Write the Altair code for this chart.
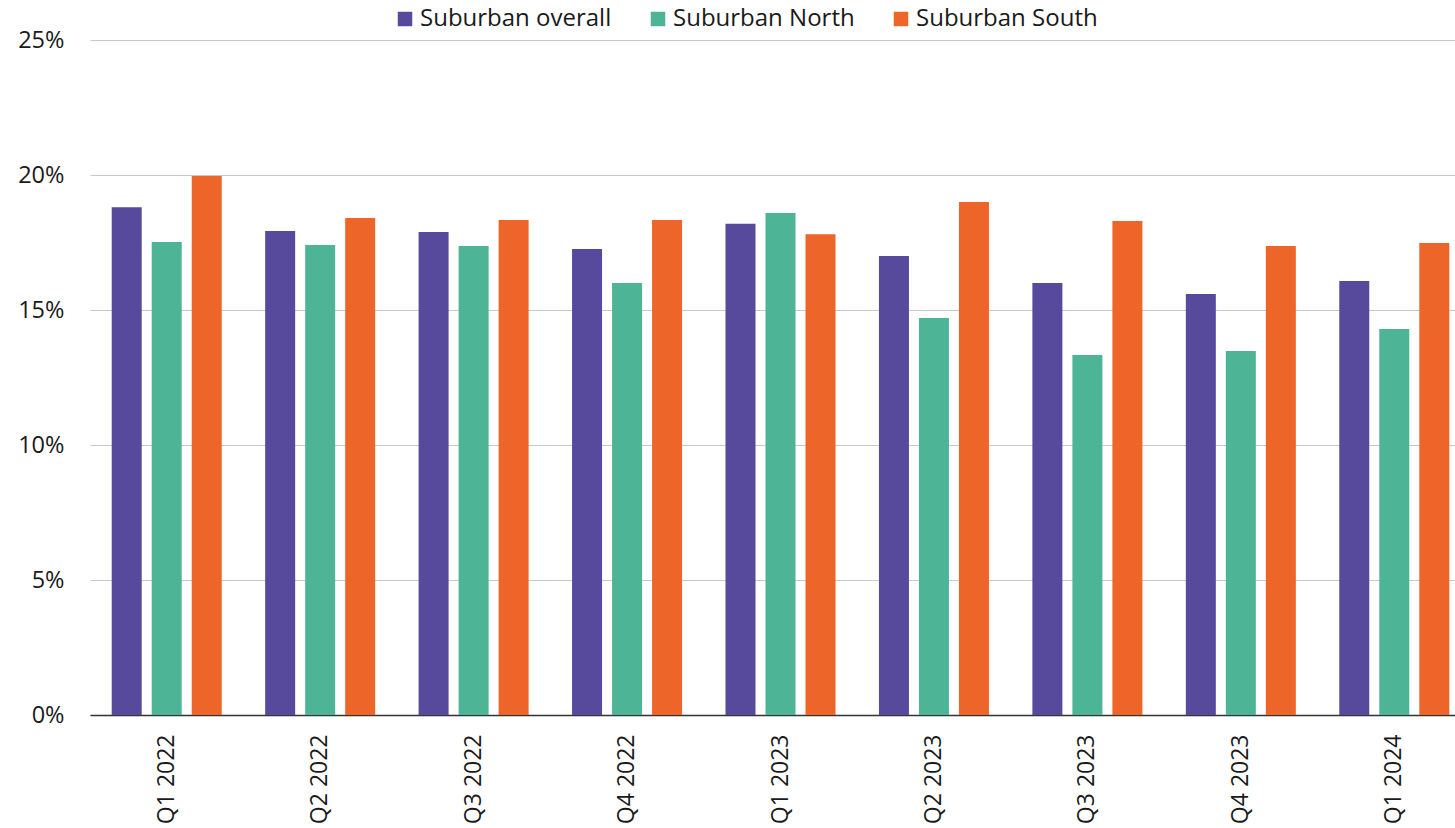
import altair as alt
import pandas as pd

quarters = ["Q1 2022", "Q2 2022", "Q3 2022", "Q4 2022", "Q1 2023",
            "Q2 2023", "Q3 2023", "Q4 2023", "Q1 2024"]
series = ["Suburban overall", "Suburban North", "Suburban South"]
overall = [18.81, 17.93, 17.89, 17.26, 18.19, 17.00, 16.00, 15.59, 16.07]
north = [17.52, 17.41, 17.37, 16.00, 18.59, 14.70, 13.33, 13.48, 14.30]
south = [19.96, 18.41, 18.33, 18.33, 17.81, 19.00, 18.30, 17.37, 17.48]
colors = ["#574A9D", "#4DB596", "#EE652A"]

rows = []
for name, vals in zip(series, [overall, north, south]):
    for q, v in zip(quarters, vals):
        rows.append({"quarter": q, "series": name, "value": v / 100})
df = pd.DataFrame(rows)

FONT = "Open Sans"

chart = alt.Chart(df).mark_bar().encode(
    x=alt.X("quarter:N", sort=quarters, title=None,
            scale=alt.Scale(range=[0, 1381], paddingInner=0.283, paddingOuter=0.1415),
            axis=alt.Axis(labelAngle=-90, labelAlign="right", labelBaseline="middle",
                          labelPadding=19, ticks=False, domainColor="#333333",
                          domainWidth=1.5, labelFont=FONT, labelFontSize=23,
                          labelColor="#1a1a1a", grid=False)),
    xOffset=alt.XOffset("series:N", sort=series,
                        scale=alt.Scale(paddingInner=0.25, paddingOuter=0)),
    y=alt.Y("value:Q", title=None,
            scale=alt.Scale(domain=[0, 0.25], nice=False),
            axis=alt.Axis(values=[0, 0.05, 0.10, 0.15, 0.20, 0.25], format=".0%",
                          domain=False, ticks=False, labelPadding=26,
                          gridColor="#c8c8c8", gridWidth=1, labelFont=FONT,
                          labelFontSize=23.5, labelColor="#1a1a1a")),
    color=alt.Color("series:N", sort=series,
                    scale=alt.Scale(domain=series, range=colors),
                    legend=alt.Legend(title=None, orient="none", direction="horizontal",
                                      legendX=303, legendY=-33,
                                      symbolType="square", symbolSize=210,
                                      symbolStrokeWidth=0, labelFont=FONT,
                                      labelFontSize=24, labelColor="#1a1a1a",
                                      columnPadding=34, labelLimit=400,
                                      labelOffset=3)),
).properties(
    width=1365, height=675,
    autosize=alt.AutoSizeParams(type="none"),
    padding={"left": 90, "top": 40, "right": 0, "bottom": 113},
).configure_view(stroke=None)

chart.save("out.html", embed_options={"renderer": "svg", "actions": False})
